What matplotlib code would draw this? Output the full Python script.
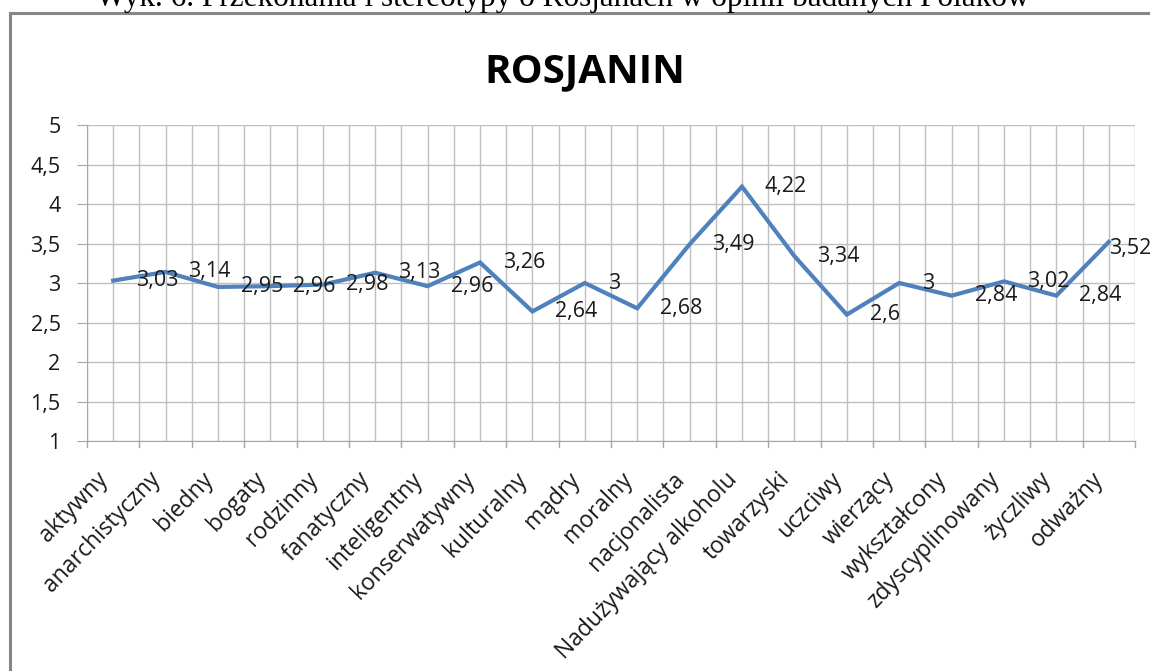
import matplotlib
matplotlib.use("Agg")
import matplotlib.pyplot as plt
from matplotlib.patches import Rectangle
import numpy as np

categories = ["aktywny", "anarchistyczny", "biedny", "bogaty", "rodzinny", "fanatyczny",
              "inteligentny", "konserwatywny", "kulturalny", "mądry", "moralny", "nacjonalista",
              "Nadużywający alkoholu", "towarzyski", "uczciwy", "wierzący", "wykształcony",
              "zdyscyplinowany", "życzliwy", "odważny"]
values = [3.03, 3.14, 2.95, 2.96, 2.98, 3.13, 2.96, 3.26, 2.64, 3.0, 2.68, 3.49,
          4.22, 3.34, 2.6, 3.0, 2.84, 3.02, 2.84, 3.52]
yticks = [1, 1.5, 2, 2.5, 3, 3.5, 4, 4.5, 5]
ytick_labels = ["1", "1,5", "2", "2,5", "3", "3,5", "4", "4,5", "5"]
chart_title = "ROSJANIN"
caption = "Wyk. 6. Przekonania i stereotypy o Rosjanach w opinii badanych Polaków"

W, H = 1150, 671
fig = plt.figure(figsize=(W / 100, H / 100), dpi=100)
ax = fig.add_axes([87 / W, 1 - 441 / H, (1135 - 87) / W, (441 - 125) / H])

font = "Open Sans"
fs = 15.5
n = len(categories)
x = np.arange(n)
ax.plot(x, values, color="#4F81BD", lw=3.0, solid_joinstyle="miter", zorder=3)

def fmt(v):
    s = ("%.2f" % v).rstrip("0").rstrip(".")
    return s.replace(".", ",")

for i, (xi, v) in enumerate(zip(x, values)):
    off = (16.5, 0) if i < n - 1 else (0.5, -5)
    ax.annotate(fmt(v), (xi, v), xytext=off, textcoords="offset points",
                ha="left", va="center", fontsize=fs, family=font, color="#1a1a1a", zorder=4)

ax.set_xlim(-0.5, n - 0.5)
ax.set_ylim(1, 5)
ax.set_yticks(yticks)
ax.set_yticklabels(ytick_labels, family=font, fontsize=fs, color="#1a1a1a")
ax.set_xticks(x)
ax.set_xticklabels(categories, rotation=46, ha="right", va="top", family=font, fontsize=16.5,
                   color="#1a1a1a", rotation_mode="default")
ax.tick_params(axis="x", length=0, pad=19)
ax.tick_params(axis="y", length=7, color="#A6A6A6", pad=12)

# gridlines: boundaries and centers
for b in np.arange(-0.5, n, 0.5):
    ax.axvline(b, color="#BFBFBF", lw=1, zorder=1)
for yv in yticks:
    ax.axhline(yv, color="#BFBFBF", lw=1, zorder=1)
# boundary tick marks below axis
for b in np.arange(-0.5, n + 0.5, 1):
    ax.plot([b, b], [1, 0.93], color="#A6A6A6", lw=1, clip_on=False)

for s in ["top", "right"]:
    ax.spines[s].set_visible(False)
ax.spines["left"].set_color("#A6A6A6")
ax.spines["bottom"].set_color("#A6A6A6")

fig.text(585 / W, 1 - 72 / H, chart_title, ha="center", va="center", fontsize=29,
         fontweight="bold", family=font)
fig.text(563 / W, 1 - 6 / H, caption, ha="center", va="baseline", fontsize=22.5,
         family="Liberation Serif")

fig.add_artist(Rectangle((10 / W, -0.05), 1.2, 1 - 13 / H + 0.05, transform=fig.transFigure,
                         fill=False, edgecolor="#868686", lw=2.2))

fig.savefig("out.png", dpi=100)
